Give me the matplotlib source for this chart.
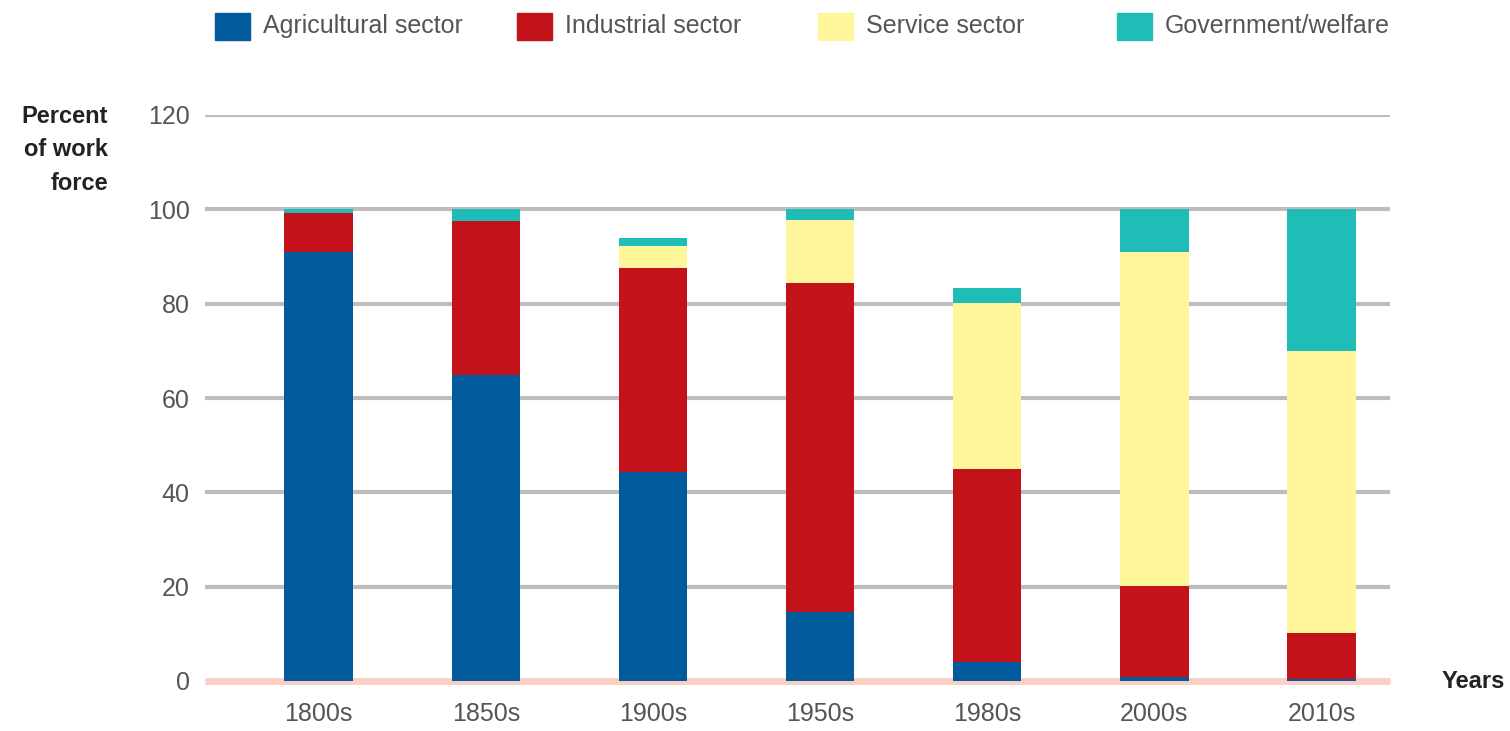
import numpy as np
import matplotlib.pyplot as plt
from matplotlib.patches import Rectangle

plt.rcParams['font.family'] = ['Liberation Sans', 'DejaVu Sans']

years = ['1800s', '1850s', '1900s', '1950s', '1980s', '2000s', '2010s']
agricultural = [90.9, 64.8, 44.3, 14.6, 4.0, 0.9, 0.5]
industrial = [8.3, 32.7, 43.3, 69.8, 40.9, 19.2, 9.7]
service = [0.0, 0.0, 4.6, 13.3, 35.2, 70.8, 59.8]
government = [0.8, 2.5, 1.7, 2.3, 3.2, 9.1, 30.0]

sectors = ['Agricultural sector', 'Industrial sector', 'Service sector', 'Government/welfare']
colors = ['#005a9c', '#c4121a', '#fff59a', '#20bdb8']
yticks = [0, 20, 40, 60, 80, 100, 120]

fig = plt.figure(figsize=(15.1, 7.31), dpi=100)
ax = fig.add_axes([205 / 1510, 50 / 731, 1185 / 1510, 566 / 731])

x = np.arange(len(years))
bottom = np.zeros(len(years))
for vals, c in zip([agricultural, industrial, service, government], colors):
    ax.bar(x, vals, width=0.41, bottom=bottom, color=c, zorder=3)
    bottom += np.array(vals)

ax.set_xlim(-0.68, 6.41)
ax.set_ylim(0, 120)
for t in yticks[1:]:
    ax.axhline(t, color='#bdbdbd', lw=3, zorder=1)
ax.axhline(0, color='#fbd0c4', lw=5, zorder=1, clip_on=False, solid_capstyle='butt')

for s in ax.spines.values():
    s.set_visible(False)
ax.set_yticks(yticks)
ax.set_yticklabels([str(t) for t in yticks], fontsize=18, color='#555555')
ax.set_xticks(x)
ax.set_xticklabels(years, fontsize=18, color='#555555')
ax.tick_params(axis='both', length=0)
ax.tick_params(axis='y', pad=11)
ax.tick_params(axis='x', pad=15)

fig.text(108 / 1510, 1 - 150 / 731, 'Percent\nof work\nforce', ha='right', va='center',
         fontsize=17, fontweight='bold', color='#222222', linespacing=1.6)
fig.text(1505 / 1510, 1 - 681 / 731, 'Years', ha='right', va='center',
         fontsize=17, fontweight='bold', color='#222222')

legend_x = [215, 517, 818, 1117]
for lx, name, c in zip(legend_x, sectors, colors):
    fig.patches.append(Rectangle((lx / 1510, 1 - 40 / 731), 35 / 1510, 27 / 731,
                                 transform=fig.transFigure, color=c))
    fig.text((lx + 48) / 1510, 1 - 26 / 731, name, ha='left', va='center',
             fontsize=18, color='#555555')

fig.savefig('out.png', dpi=100)
